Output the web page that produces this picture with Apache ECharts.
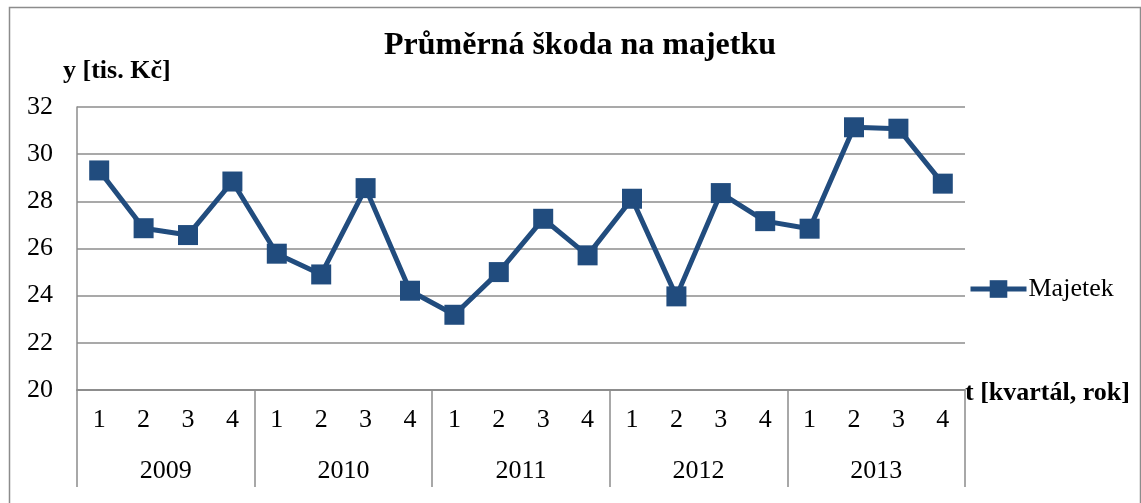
<!DOCTYPE html>
<html>
<head>
<meta charset="utf-8">
<script src="https://cdn.jsdelivr.net/npm/echarts@6/dist/echarts.min.js"></script>
<style>
html,body{margin:0;padding:0;background:#fff;}
#chart{width:1141px;height:503px;}
</style>
</head>
<body>
<div id="chart"></div>
<script>
var years = ['2009', '2010', '2011', '2012', '2013'];
var quarters = ['1', '2', '3', '4'];
var majetek = [29.31, 26.86, 26.57, 28.84, 25.78, 24.90, 28.56, 24.21, 23.19, 25.00,
               27.26, 25.71, 28.11, 23.97, 28.35, 27.16, 26.84, 31.14, 31.08, 28.75];
var yTicks = { min: 20, max: 32, interval: 2 };
var titleText = 'Průměrná škoda na majetku';
var yName = 'y [tis. Kč]';
var xName = 't [kvartál, rok]';
var seriesName = 'Majetek';

var categories = [];
years.forEach(function (y) { quarters.forEach(function (q) { categories.push(y + '-' + q); }); });

var FONT = '"Liberation Serif", "DejaVu Serif", serif';
var GRID = '#8c8c8c';
var BLUE = '#214c7e';

var chart = echarts.init(document.getElementById('chart'), null, { renderer: 'canvas' });
chart.setOption({
  animation: false,
  backgroundColor: '#fff',
  title: {
    text: titleText,
    left: 575, top: 25, textAlign: 'center',
    textStyle: { fontFamily: FONT, fontSize: 32, fontWeight: 'bold', color: '#000' }
  },
  legend: {
    data: [seriesName],
    left: 968, top: 276, padding: 0,
    itemWidth: 56, itemHeight: 22, itemGap: 2,
    lineStyle: { width: 5 },
    textStyle: { fontFamily: FONT, fontSize: 26, color: '#000', padding: [0, 0, 0, -3] }
  },
  grid: { left: 77, right: 176, top: 107, bottom: 113, containLabel: false },
  xAxis: [
    {
      type: 'category', data: categories, boundaryGap: true, position: 'bottom',
      axisLine: { show: true, lineStyle: { color: GRID, width: 1.5 } },
      axisTick: { show: false },
      axisLabel: {
        margin: 17, fontFamily: FONT, fontSize: 26, color: '#000', interval: 0,
        formatter: function (v) { return v.split('-')[1]; }
      },
      splitLine: { show: false }
    },
    {
      type: 'category', data: years, boundaryGap: true, position: 'bottom', offset: 0,
      axisLine: { show: true, lineStyle: { color: GRID, width: 1.5 } },
      axisTick: { show: true, length: 97, inside: false, lineStyle: { color: GRID, width: 1.5 } },
      axisLabel: { margin: 68, fontFamily: FONT, fontSize: 26, color: '#000', interval: 0 },
      splitLine: { show: false }
    }
  ],
  yAxis: {
    type: 'value', min: yTicks.min, max: yTicks.max, interval: yTicks.interval,
    axisLine: { show: true, lineStyle: { color: GRID, width: 1.5 } },
    axisTick: { show: false },
    axisLabel: { margin: 24, fontFamily: FONT, fontSize: 26, color: '#000' },
    splitLine: { show: true, lineStyle: { color: GRID, width: 1.5 } }
  },
  graphic: [
    { type: 'rect', left: 7, top: 5, z: -1, silent: true,
      shape: { width: 1131, height: 520 },
      style: { fill: 'none', stroke: '#8c8c8c', lineWidth: 1.5 } },
    { type: 'text', left: 63, top: 58,
      style: { text: yName, font: 'bold 26px ' + FONT, fill: '#000' } },
    { type: 'text', left: 965, top: 380,
      style: { text: xName, font: 'bold 26px ' + FONT, fill: '#000' } }
  ],
  series: [{
    name: seriesName, type: 'line', xAxisIndex: 0, data: majetek,
    symbol: 'rect', symbolSize: 20, showSymbol: true,
    lineStyle: { color: BLUE, width: 5 },
    itemStyle: { color: BLUE },
    z: 5
  }]
});
</script>
</body>
</html>
